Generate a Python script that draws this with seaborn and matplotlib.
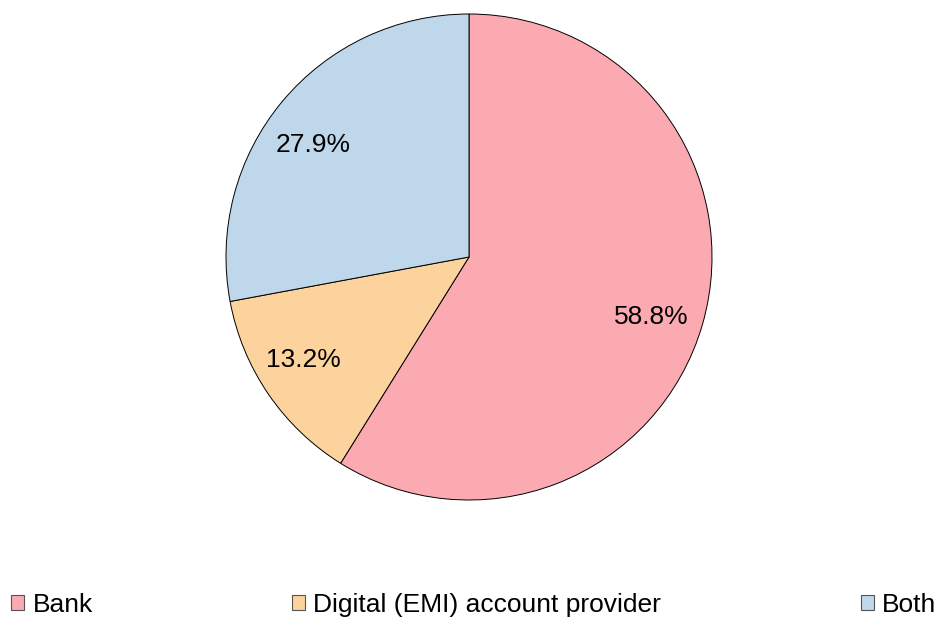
import matplotlib
matplotlib.use("Agg")
import numpy as np
import matplotlib.pyplot as plt
import seaborn as sns
from matplotlib.patches import Patch

categories = ["Bank", "Digital (EMI) account provider", "Both"]
shares = [58.8, 13.2, 27.9]
colors = ["#FBAAB2", "#FCD29D", "#BFD7EA"]

# label placement style (radius fraction, small angular nudges in degrees)
label_radius = [0.79, 0.80, 0.79]
label_nudge = [-2.3, -2.5, 4.2]

sns.set_theme(style="white")
plt.rcParams['font.family'] = ['Liberation Sans', 'DejaVu Sans']
plt.rcParams['text.color'] = 'black'

W, H = 941, 617
fig = plt.figure(figsize=(W / 100, H / 100), dpi=100)
r = 243 * 1.02
cx, cy = 469, H - 257
ax = fig.add_axes([(cx - r) / W, (cy - r) / H, 2 * r / W, 2 * r / H])

pal = sns.color_palette(colors)
wedges, _ = ax.pie(
    shares, colors=pal, startangle=90, counterclock=False,
    wedgeprops=dict(edgecolor="black", linewidth=0.7))
for w, v, rr, dn in zip(wedges, shares, label_radius, label_nudge):
    ang = np.deg2rad((w.theta1 + w.theta2) / 2 + dn)
    ax.text(rr * np.cos(ang), rr * np.sin(ang), f"{v:.1f}%",
            ha="center", va="center", fontsize=19, color="black")
ax.set_xlim(-1.02, 1.02)
ax.set_ylim(-1.02, 1.02)
ax.set_aspect("equal")
ax.axis("off")

handles = [Patch(facecolor=c, edgecolor="#555555", linewidth=0.8) for c in pal]
fig.legend(handles, categories, loc="lower left", ncol=3, mode="expand",
           bbox_to_anchor=(0.012, 0.0, 0.983, 0.055), frameon=False,
           fontsize=19, handlelength=0.5, handleheight=0.5,
           handletextpad=0.3, borderaxespad=0.0, borderpad=0.0,
           labelcolor="black")

fig.savefig("out.png", dpi=100)
